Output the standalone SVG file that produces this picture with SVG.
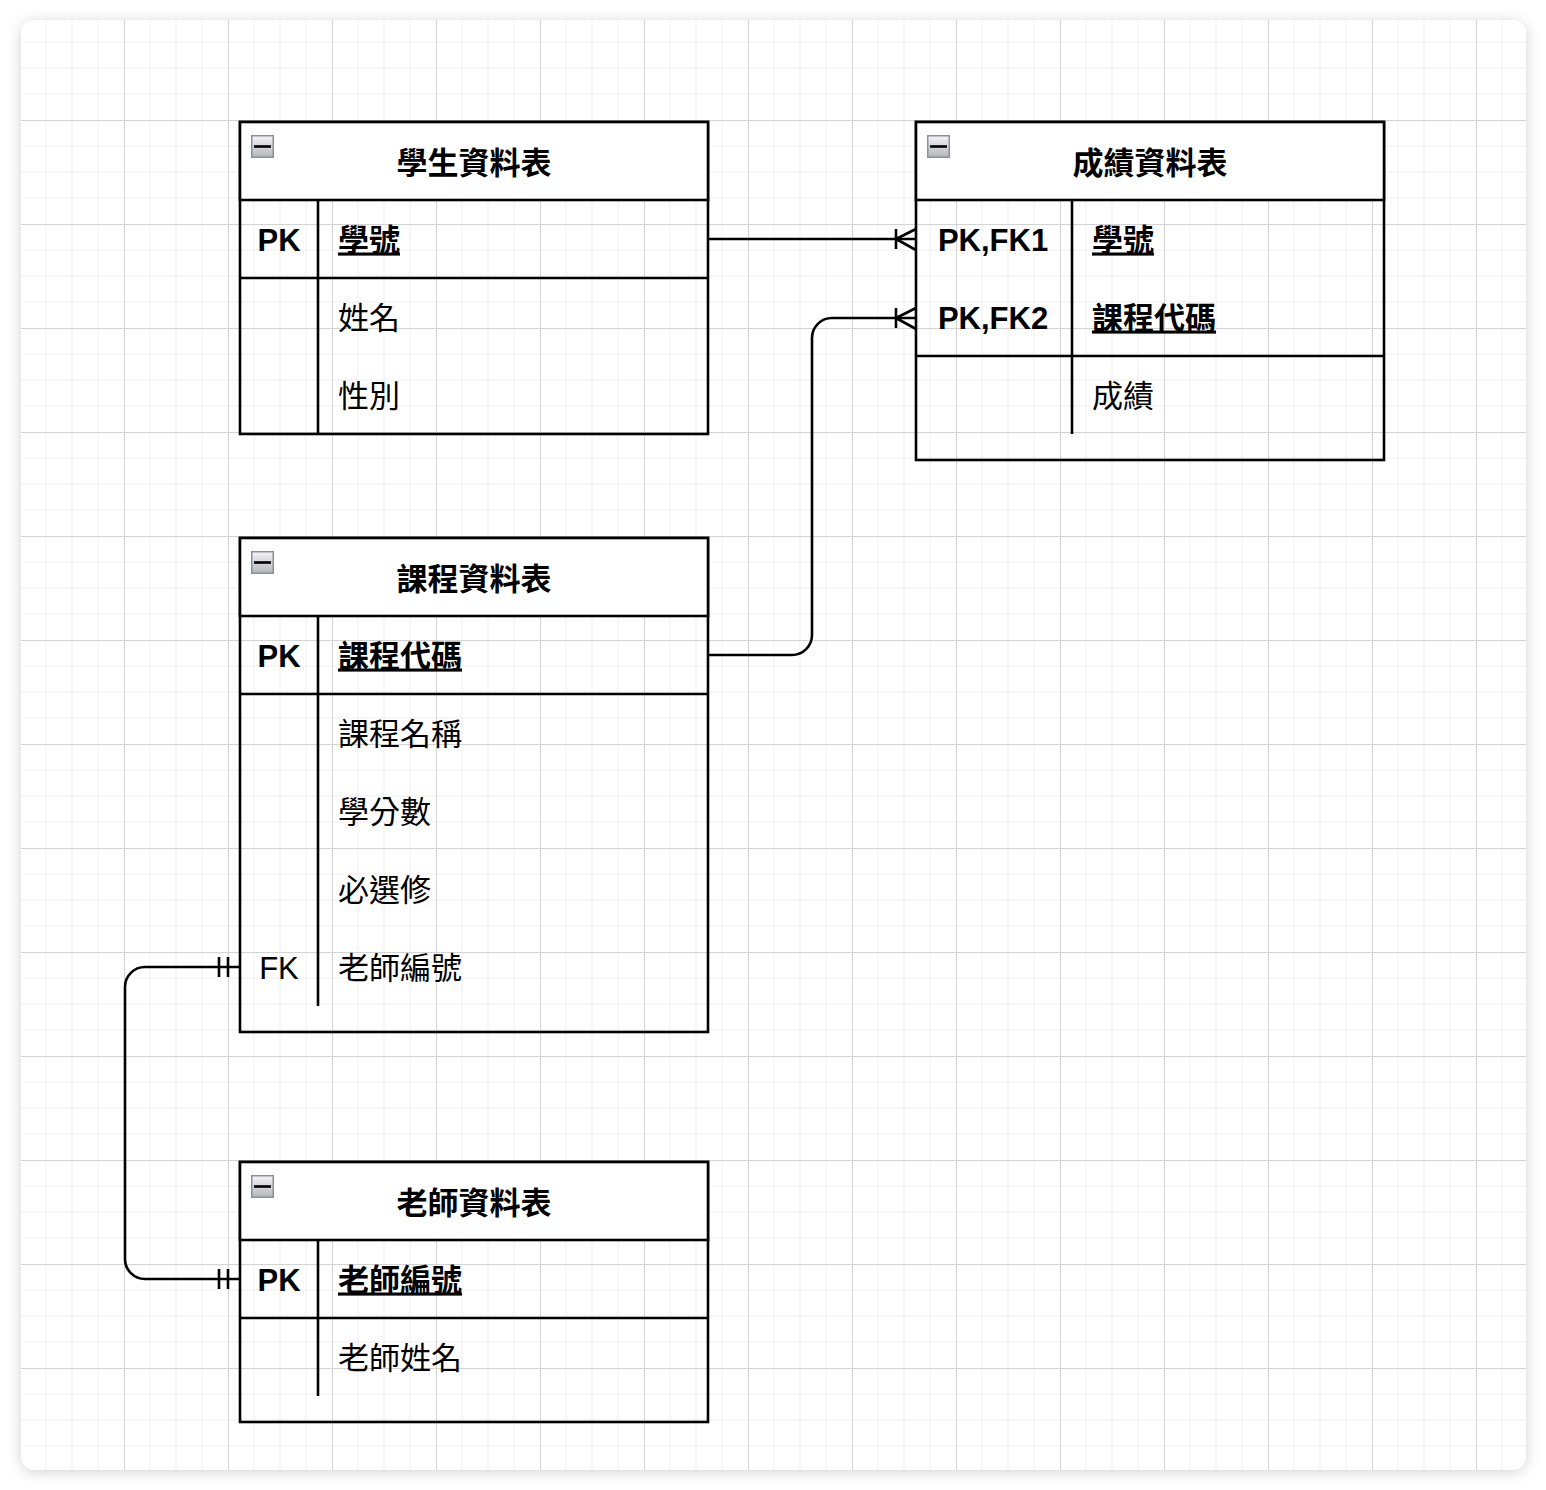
<svg xmlns="http://www.w3.org/2000/svg" width="1546" height="1490" viewBox="0 0 1546 1490">
<style>
.frame{fill:none;stroke:#000;stroke-width:2.6}
.hdr{fill:#fff;stroke:#000;stroke-width:2.6}
.ln{stroke:#000;stroke-width:2.6;fill:none}
.con{stroke:#000;stroke-width:2.6;fill:none}
.t{font-family:"Liberation Sans","Noto Sans CJK TC",sans-serif;font-size:31px;fill:#000}
.b{font-weight:bold}
.c{text-anchor:middle}
.u{text-decoration:underline}
</style>
<defs>
<filter id="sh" x="-5%" y="-5%" width="110%" height="110%">
<feDropShadow dx="0" dy="2" stdDeviation="7" flood-color="#000" flood-opacity="0.18"/>
</filter>
<pattern id="grid" patternUnits="userSpaceOnUse" x="20" y="16" width="104" height="104">
<path d="M26,0V104M52,0V104M78,0V104M0,26H104M0,52H104M0,78H104" stroke="#efefef" stroke-width="1" fill="none"/>
<path d="M0.5,0V104M0,0.5H104" stroke="#d3d3d3" stroke-width="1" fill="none"/>
</pattern>
<linearGradient id="ig" x1="0" y1="0" x2="0" y2="1">
<stop offset="0" stop-color="#f4f4f6"/>
<stop offset="1" stop-color="#b4b4ba"/>
</linearGradient>
<g id="icon">
<rect x="0.75" y="0.75" width="21.5" height="21.5" fill="url(#ig)" stroke="#8c8fa2" stroke-width="1.5"/>
<line x1="3" y1="11.5" x2="20" y2="11.5" stroke="#000" stroke-width="2.6"/>
</g>
</defs>
<rect x="0" y="0" width="1546" height="1490" fill="#fff"/>
<rect x="21" y="20" width="1505" height="1450" rx="14" fill="#fff" filter="url(#sh)"/>
<rect x="21" y="20" width="1505" height="1450" rx="14" fill="url(#grid)"/>

<g id="connectors">
<path class="con" d="M708,239H916"/>
<path class="con" d="M896,229V249M896,239L916,229M896,239L916,250"/>
<path class="con" d="M708,655H792A20,20 0 0 0 812,635V338A20,20 0 0 1 832,318H916"/>
<path class="con" d="M896,308V328M896,318L916,308M896,318L916,329"/>
<path class="con" d="M240,967H145A20,20 0 0 0 125,987V1259A20,20 0 0 0 145,1279H240"/>
<path class="con" d="M219,957V977M228,957V977M219,1269V1289M228,1269V1289"/>
</g>

<g id="student">
<rect class="frame" x="240" y="122" width="468" height="312"/>
<rect class="hdr" x="240" y="122" width="468" height="78"/>
<line class="ln" x1="240" y1="278" x2="708" y2="278"/>
<line class="ln" x1="318" y1="200" x2="318" y2="434"/>
<use href="#icon" x="251" y="135"/>
<text class="t b c" x="474" y="174">學生資料表</text>
<text class="t b c" x="279" y="250.5">PK</text>
<text class="t b u" x="338" y="250.5">學號</text>
<text class="t" x="338" y="328.5">姓名</text>
<text class="t" x="338" y="406.5">性別</text>
</g>

<g id="grades">
<rect class="frame" x="916" y="122" width="468" height="338"/>
<rect class="hdr" x="916" y="122" width="468" height="78"/>
<line class="ln" x1="916" y1="356" x2="1384" y2="356"/>
<line class="ln" x1="1072" y1="200" x2="1072" y2="434"/>
<use href="#icon" x="927" y="135"/>
<text class="t b c" x="1150" y="174">成績資料表</text>
<text class="t b c" x="993" y="250.5">PK,FK1</text>
<text class="t b u" x="1092" y="250.5">學號</text>
<text class="t b c" x="993" y="328.5">PK,FK2</text>
<text class="t b u" x="1092" y="328.5">課程代碼</text>
<text class="t" x="1092" y="406.5">成績</text>
</g>

<g id="course">
<rect class="frame" x="240" y="538" width="468" height="494"/>
<rect class="hdr" x="240" y="538" width="468" height="78"/>
<line class="ln" x1="240" y1="694" x2="708" y2="694"/>
<line class="ln" x1="318" y1="616" x2="318" y2="1006"/>
<use href="#icon" x="251" y="551"/>
<text class="t b c" x="474" y="590">課程資料表</text>
<text class="t b c" x="279" y="666.5">PK</text>
<text class="t b u" x="338" y="666.5">課程代碼</text>
<text class="t" x="338" y="744.5">課程名稱</text>
<text class="t" x="338" y="822.5">學分數</text>
<text class="t" x="338" y="900.5">必選修</text>
<text class="t c" x="279" y="978.5">FK</text>
<text class="t" x="338" y="978.5">老師編號</text>
</g>

<g id="teacher">
<rect class="frame" x="240" y="1162" width="468" height="260"/>
<rect class="hdr" x="240" y="1162" width="468" height="78"/>
<line class="ln" x1="240" y1="1318" x2="708" y2="1318"/>
<line class="ln" x1="318" y1="1240" x2="318" y2="1396"/>
<use href="#icon" x="251" y="1175"/>
<text class="t b c" x="474" y="1214">老師資料表</text>
<text class="t b c" x="279" y="1290.5">PK</text>
<text class="t b u" x="338" y="1290.5">老師編號</text>
<text class="t" x="338" y="1368.5">老師姓名</text>
</g>
</svg>
